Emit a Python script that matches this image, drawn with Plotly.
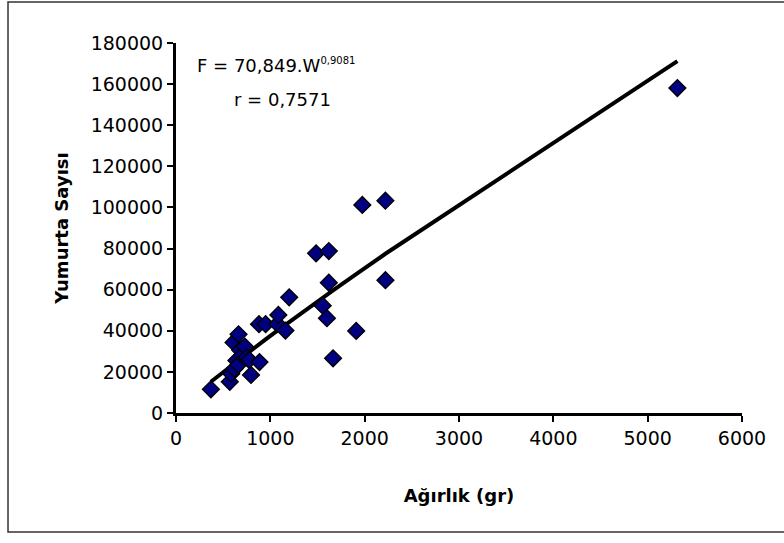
import numpy as np
import plotly.graph_objects as go

# Data
agirlik = [370, 570, 585, 620, 640, 660, 610, 663, 680, 700, 730, 750, 775, 795, 885,
           880, 950, 1075, 1085, 1160, 1200, 1485, 1555, 1600, 1620, 1620, 1665, 1910,
           1975, 2220, 2220, 5315]
yumurta = [11500, 15200, 19100, 21500, 25500, 23500, 34300, 38300, 30600, 28000, 32300, 27000,
           25800, 18500, 24800, 43200, 43200, 43300, 47700, 40100, 56300, 77700, 52200, 46100,
           63400, 78800, 26600, 39900, 101200, 103300, 64600, 158100]

coef_a = 70.849
coef_b = 0.9081
x_ticks = [0, 1000, 2000, 3000, 4000, 5000, 6000]
y_ticks = [0, 20000, 40000, 60000, 80000, 100000, 120000, 140000, 160000, 180000]

xs = np.array(sorted(set(agirlik)), dtype=float)
fit = coef_a * xs ** coef_b

fig = go.Figure()
fig.add_trace(go.Scatter(
    x=xs, y=fit, mode="lines",
    line=dict(color="black", width=4), hoverinfo="skip", showlegend=False))
fig.add_trace(go.Scatter(
    x=agirlik, y=yumurta, mode="markers",
    marker=dict(symbol="diamond", size=13, color="#000080",
                line=dict(color="black", width=1.3)),
    showlegend=False))

font_main = "DejaVu Sans, sans-serif"
fig.update_layout(
    width=784, height=543,
    margin=dict(l=176, r=42, t=43, b=130),
    paper_bgcolor="white", plot_bgcolor="white",
    font=dict(family=font_main, size=19, color="black"),
    xaxis=dict(range=[0, 6000], tickvals=x_ticks, ticktext=[str(v) for v in x_ticks],
               showgrid=False, zeroline=False, showline=True, linecolor="black", linewidth=3,
               ticks="outside", ticklen=6, tickwidth=2, tickcolor="black",
               title=dict(text="<b>Ağırlık (gr)</b>", font=dict(size=18), standoff=42)),
    yaxis=dict(range=[0, 180000], tickvals=y_ticks, ticktext=[str(v) for v in y_ticks],
               showgrid=False, zeroline=False, showline=True, linecolor="black", linewidth=3,
               ticks="outside", ticklen=6, tickwidth=2, tickcolor="black",
               title=dict(text="<b>Yumurta Sayısı</b>", font=dict(size=18), standoff=18)),
    shapes=[dict(type="rect", xref="paper", yref="paper",
                 x0=-0.2968, x1=1.25, y0=-0.3216, y1=1.1108,
                 line=dict(color="#333333", width=1.5), layer="below")],
    annotations=[
        dict(x=200, y=169000, xref="x", yref="y", xanchor="left", yanchor="middle",
             text="F = 70,849.W<sup><span style='font-size:10px'>0,9081</span></sup>",
             showarrow=False, font=dict(size=18)),
        dict(x=594, y=152300, xref="x", yref="y", xanchor="left", yanchor="middle",
             text="r = 0,7571", showarrow=False, font=dict(size=18)),
    ],
)

fig.write_html("out.html")
